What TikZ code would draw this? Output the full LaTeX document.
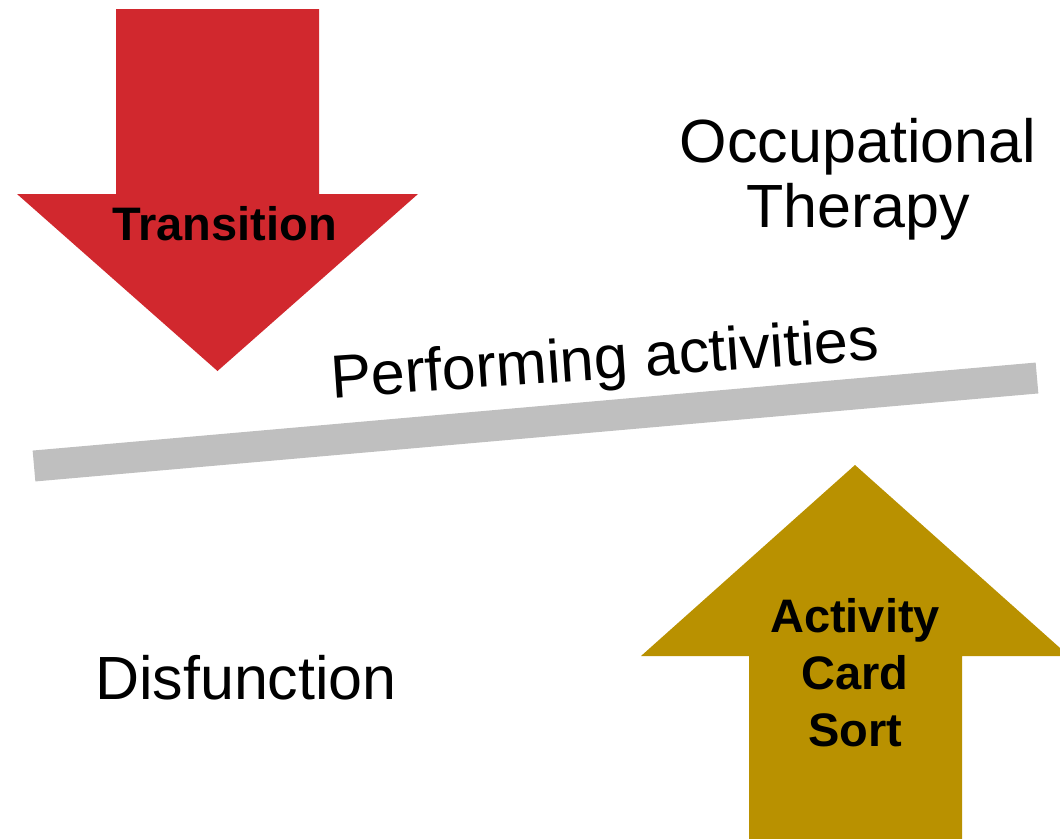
\documentclass[tikz,border=0pt]{standalone}
\usepackage{fontspec}
\setmainfont{Liberation Sans}
\definecolor{arrowred}{RGB}{209,40,46}
\definecolor{arrowgold}{RGB}{185,145,0}
\definecolor{bargray}{RGB}{191,191,191}
\begin{document}
\begin{tikzpicture}[x=1pt,y=-1pt,
 plain/.style={inner sep=0pt, font=\fontsize{61}{65}\selectfont, align=center},
 boldlabel/.style={inner sep=0pt, font=\fontsize{47}{57}\selectfont\bfseries, align=center}]
\useasboundingbox (0,0) rectangle (1060,838);
\clip (0,0) rectangle (1060,838);
\fill[arrowred] (116,9) -- (319,9) -- (319,194) -- (418,194) -- (217.5,371) -- (17,194) -- (116,194) -- cycle;
\fill[arrowgold] (855,465) -- (1069,656) -- (962,656) -- (962,840) -- (749,840) -- (749,656) -- (641,656) -- cycle;
\coordinate (barL) at (34,466);
\coordinate (barR) at (1037,378);
\draw[bargray, line width=31pt] (barL) -- (barR);
\node[plain, anchor=base] (ot) at (858,227) {Occupational\\Therapy};
\node[plain, anchor=base] (dis) at (246,699) {Disfunction};
\node[plain, anchor=base, rotate=4] (perf) at (606,379) {Performing activities};
\node[boldlabel, anchor=base] (tr) at (224.5,240) {Transition};
\node[boldlabel, anchor=base] (acs) at (855,746) {Activity\\Card\\Sort};
\end{tikzpicture}
\end{document}
